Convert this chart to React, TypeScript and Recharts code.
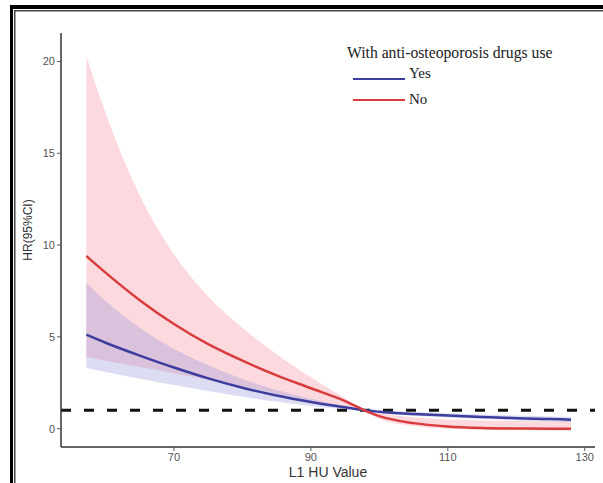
import React from "react";
import {
  ComposedChart,
  Area,
  Line,
  XAxis,
  YAxis,
  ReferenceLine,
  Legend,
} from "recharts";

const huValues = [57.2, 60, 65, 70, 75, 80, 85, 90, 95, 97.8, 100, 105, 110, 115, 120, 125, 128];
const yesHR = [5.12, 4.68, 3.98, 3.33, 2.74, 2.23, 1.8, 1.45, 1.16, 1.0, 0.92, 0.8, 0.71, 0.64, 0.57, 0.52, 0.49];
const yesLower = [3.32, 3.08, 2.72, 2.38, 2.05, 1.74, 1.46, 1.23, 1.06, 1.0, 0.85, 0.7, 0.6, 0.52, 0.45, 0.39, 0.36];
const yesUpper = [7.95, 6.95, 5.5, 4.35, 3.45, 2.7, 2.1, 1.63, 1.22, 1.0, 0.98, 0.92, 0.84, 0.77, 0.71, 0.66, 0.63];
const noHR = [9.4, 8.5, 7.0, 5.7, 4.6, 3.7, 2.9, 2.2, 1.5, 1.0, 0.68, 0.3, 0.12, 0.04, 0.01, 0.0, 0.0];
const noLower = [3.9, 3.7, 3.36, 3.02, 2.67, 2.3, 1.9, 1.5, 1.16, 1.0, 0.52, 0.14, 0.0, -0.05, -0.08, -0.1, -0.1];
const noUpper = [20.3, 17.2, 12.7, 9.5, 7.2, 5.5, 4.05, 2.8, 1.65, 1.0, 0.85, 0.62, 0.5, 0.45, 0.42, 0.4, 0.4];

const xTicks = [70, 90, 110, 130];
const yTicks = [0, 5, 10, 15, 20];
const legendTitle = "With anti-osteoporosis drugs use";
const legendItems = [
  { label: "Yes", color: "#3d3d9e" },
  { label: "No", color: "#d83c3c" },
];

const data = huValues.map((x, i) => ({
  x,
  yes: yesHR[i],
  no: noHR[i],
  yesBand: [yesLower[i], yesUpper[i]],
  noBand: [noLower[i], noUpper[i]],
}));

const renderLegend = () => (
  <div style={{ fontFamily: "'Liberation Serif', 'Times New Roman', serif", color: "#222" }}>
    <div style={{ fontSize: 15.7, lineHeight: "18px", whiteSpace: "nowrap" }}>{legendTitle}</div>
    {legendItems.map((it, i) => (
      <div key={it.label} style={{ display: "flex", alignItems: "center", height: 22, marginTop: i === 0 ? 0 : 4, marginLeft: 6 }}>
        <div style={{ width: 52, height: 2, background: it.color, marginRight: 4, marginTop: i === 0 ? 12 : 2 }} />
        <span style={{ fontSize: 15 }}>{it.label}</span>
      </div>
    ))}
  </div>
);

const tickStyle = { fill: "#555", fontSize: 11, fontFamily: "'Liberation Sans', Arial, sans-serif" };

export default function App() {
  return (
    <div style={{ position: "absolute", left: 0, top: 0, width: 603, height: 483, background: "#fff", overflow: "hidden" }}>
      <ComposedChart
        width={603}
        height={483}
        data={data}
        margin={{ top: 33, right: 8, left: 0, bottom: 0 }}
      >
        <XAxis
          dataKey="x"
          type="number"
          domain={[53.5, 131.5]}
          ticks={xTicks}
          height={36}
          tick={tickStyle}
          tickSize={4}
          stroke="#333"
          strokeWidth={1.5}
          tickLine={{ stroke: "#555", strokeWidth: 1 }}
          label={{
            value: "L1 HU Value",
            position: "insideBottom",
            offset: 6,
            style: { fill: "#333", fontSize: 14, fontFamily: "'Liberation Sans', Arial, sans-serif" },
          }}
        />
        <YAxis
          type="number"
          domain={[-1, 21.55]}
          ticks={yTicks}
          width={61}
          tick={tickStyle}
          tickSize={4}
          stroke="#333"
          strokeWidth={1.5}
          tickLine={{ stroke: "#555", strokeWidth: 1 }}
          allowDataOverflow
          label={{
            value: "HR(95%CI)",
            angle: -90,
            position: "insideLeft",
            offset: 28,
            dy: -10,
            style: { fill: "#333", fontSize: 12, fontFamily: "'Liberation Sans', Arial, sans-serif", textAnchor: "middle" },
          }}
        />
        <Area
          dataKey="noBand"
          type="monotone"
          stroke="none"
          fill="#f8a0ad"
          fillOpacity={0.4}
          isAnimationActive={false}
          legendType="none"
        />
        <Area
          dataKey="yesBand"
          type="monotone"
          stroke="none"
          fill="#8a8ad6"
          fillOpacity={0.3}
          isAnimationActive={false}
          legendType="none"
        />
        <ReferenceLine y={1} stroke="#111" strokeWidth={3} strokeDasharray="10 13" />
        <Line dataKey="yes" type="monotone" stroke="#3d3d9e" strokeWidth={2.5} dot={false} isAnimationActive={false} />
        <Line dataKey="no" type="monotone" stroke="#d83c3c" strokeWidth={2.5} dot={false} isAnimationActive={false} />
        <Legend
          layout="horizontal"
          verticalAlign="middle"
          align="center"
          content={renderLegend}
          wrapperStyle={{ position: "absolute", left: 347, top: 44, width: 250 }}
        />
      </ComposedChart>
      <svg
        width={603}
        height={483}
        style={{ position: "absolute", left: 0, top: 0, zIndex: 10, pointerEvents: "none" }}
      >
        <rect x={10} y={5} width={593} height={4} fill="#000" />
        <rect x={10} y={5} width={3} height={478} fill="#000" />
        <rect x={14} y={10} width={589} height={1.5} fill="#444" />
        <rect x={14} y={10} width={1.5} height={473} fill="#444" />
      </svg>
    </div>
  );
}
